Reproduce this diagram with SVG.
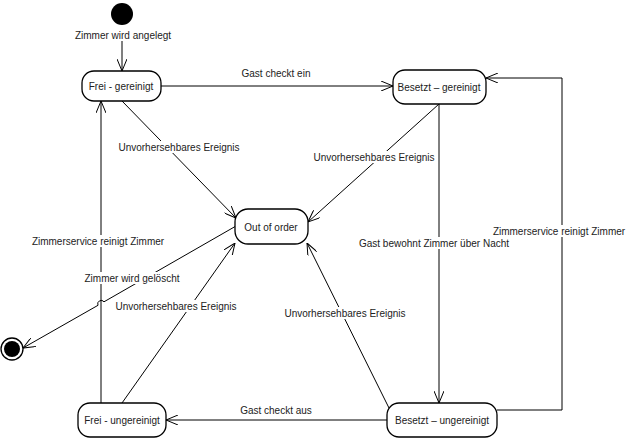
<svg xmlns="http://www.w3.org/2000/svg" width="628" height="438" viewBox="0 0 628 438">
<style>
.st{fill:#fff;stroke:#000;stroke-width:1.3}
.t{font-family:"Liberation Sans",Arial,sans-serif;font-size:10px;fill:#222;text-anchor:middle;dominant-baseline:central}
.c{fill:none;stroke:#000;stroke-width:1}
.bg{fill:#fff}
</style>
<defs>
<marker id="ah" viewBox="0 0 12 10" refX="12" refY="5" markerWidth="12" markerHeight="10" markerUnits="userSpaceOnUse" orient="auto">
<path d="M0,0 L12,5 L0,10" fill="none" stroke="#000" stroke-width="1"/>
</marker>
</defs>
<rect width="628" height="438" fill="#fff"/>
<g id="connectors">
<line class="c" x1="122" y1="40" x2="122" y2="71" marker-end="url(#ah)"/>
<line class="c" x1="161" y1="86" x2="393" y2="86" marker-end="url(#ah)"/>
<line class="c" x1="122" y1="101" x2="236" y2="218" marker-end="url(#ah)"/>
<line class="c" x1="439" y1="104" x2="308" y2="222" marker-end="url(#ah)"/>
<line class="c" x1="439" y1="104" x2="439" y2="403" marker-end="url(#ah)"/>
<polyline class="c" points="497,410 562,410 562,78 486,78" marker-end="url(#ah)"/>
<line class="c" x1="387" y1="420" x2="166" y2="420" marker-end="url(#ah)"/>
<line class="c" x1="389" y1="408" x2="307" y2="243" marker-end="url(#ah)"/>
<line class="c" x1="122" y1="403" x2="235" y2="243" marker-end="url(#ah)"/>
<line class="c" x1="101" y1="403" x2="101" y2="101" marker-end="url(#ah)"/>
<path class="c" d="M236,226 L104,301.8 A3.5,3.5 0 0,0 98,305.3 L23,348" marker-end="url(#ah)"/>
</g>
<g id="labels">
<rect class="bg" x="76" y="29" width="95" height="12"/>
<text class="t" x="123" y="35">Zimmer wird angelegt</text>
<text class="t" x="276" y="73">Gast checkt ein</text>
<rect class="bg" x="120" y="141" width="118" height="12"/>
<text class="t" x="179" y="147">Unvorhersehbares Ereignis</text>
<rect class="bg" x="315" y="151" width="119" height="12"/>
<text class="t" x="374" y="157">Unvorhersehbares Ereignis</text>
<rect class="bg" x="366" y="237" width="136" height="12"/>
<text class="t" x="434" y="243">Gast bewohnt Zimmer über Nacht</text>
<rect class="bg" x="494" y="225" width="130" height="12"/>
<text class="t" x="559" y="231">Zimmerservice reinigt Zimmer</text>
<rect class="bg" x="33" y="235" width="130" height="12"/>
<text class="t" x="98" y="241">Zimmerservice reinigt Zimmer</text>
<rect class="bg" x="84" y="272" width="96" height="12"/>
<text class="t" x="132" y="278">Zimmer wird gelöscht</text>
<rect class="bg" x="117" y="300" width="118" height="12"/>
<text class="t" x="176" y="306">Unvorhersehbares Ereignis</text>
<rect class="bg" x="286" y="307" width="119" height="12"/>
<text class="t" x="345" y="313">Unvorhersehbares Ereignis</text>
<text class="t" x="276" y="410">Gast checkt aus</text>
</g>
<g id="initial">
<circle cx="122" cy="14" r="11" fill="#000"/>
</g>
<g id="final">
<circle cx="12" cy="349" r="11" fill="#fff" stroke="#000" stroke-width="1.3"/>
<circle cx="12" cy="349" r="8" fill="#000"/>
</g>
<g id="frei-gereinigt">
<rect class="st" x="82" y="71" width="79" height="30" rx="12"/>
<text class="t" x="121" y="86">Frei - gereinigt</text>
</g>
<g id="besetzt-gereinigt">
<rect class="st" x="393" y="70" width="93" height="34" rx="12"/>
<text class="t" x="439" y="87">Besetzt – gereinigt</text>
</g>
<g id="out-of-order">
<rect class="st" x="235" y="209" width="73" height="35" rx="13"/>
<text class="t" x="271" y="227">Out of order</text>
</g>
<g id="frei-ungereinigt">
<rect class="st" x="78" y="403" width="88" height="34" rx="12"/>
<text class="t" x="122" y="420">Frei - ungereinigt</text>
</g>
<g id="besetzt-ungereinigt">
<rect class="st" x="387" y="403" width="110" height="34" rx="12"/>
<text class="t" x="442" y="420">Besetzt – ungereinigt</text>
</g>
</svg>
